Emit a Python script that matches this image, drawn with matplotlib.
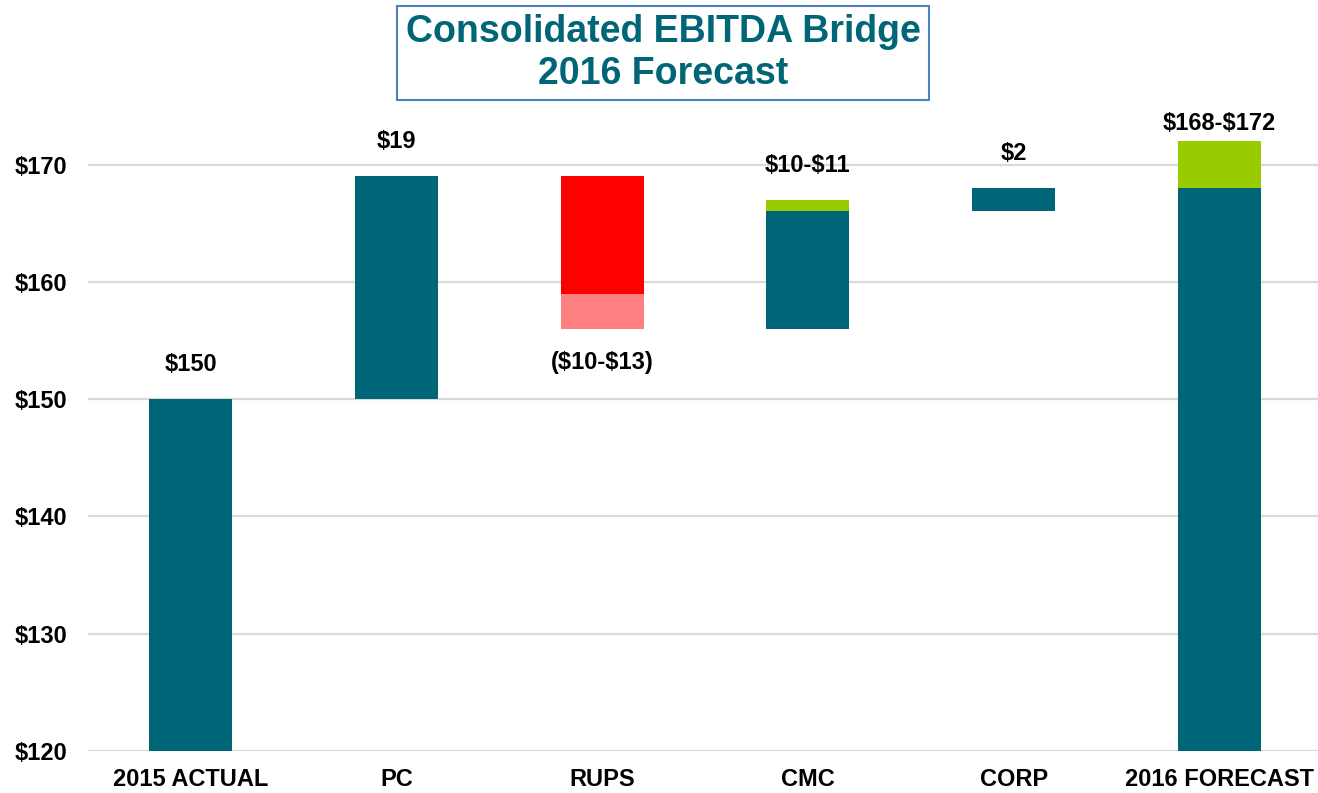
import numpy as np
import matplotlib
matplotlib.use("Agg")
import matplotlib.pyplot as plt

# ======================
# DATA
# ======================
categories = ["2015 ACTUAL", "PC", "RUPS", "CMC", "CORP", "2016 FORECAST"]

# main (solid) segment of each bar
solid_bottom = [120, 150, 159, 156, 166, 120]
solid_top = [150, 169, 169, 166, 168, 168]

# range segment (low / high estimate), nan = none
range_bottom = [np.nan, np.nan, 156, 166, np.nan, 168]
range_top = [np.nan, np.nan, 159, 167, np.nan, 172]

bar_labels = ["$150", "$19", "($10-$13)", "$10-$11", "$2", "$168-$172"]
label_below = [False, False, True, False, False, False]

yticks = [120, 130, 140, 150, 160, 170]
ytick_labels = ["$120", "$130", "$140", "$150", "$160", "$170"]

# ======================
# STYLE
# ======================
TEAL = "#006677"
GREEN = "#99CC00"
RED = "#FF0000"
PINK = "#FF8080"
solid_colors = [TEAL, TEAL, RED, TEAL, TEAL, TEAL]
range_colors = [GREEN, GREEN, PINK, GREEN, GREEN, GREEN]


def esc(s):
    # keep "$" literal, no mathtext
    return s.replace("$", r"\$")


plt.rcParams["font.family"] = ["Liberation Sans", "DejaVu Sans"]
plt.rcParams["font.weight"] = "bold"

fig = plt.figure(figsize=(13.18, 7.93), dpi=100)
ax = fig.add_axes([0.0668, 0.053, 0.9332, 0.8134])

x = np.arange(len(categories))
w = 0.404

s_bot = np.array(solid_bottom, dtype=float)
s_top = np.array(solid_top, dtype=float)
r_bot = np.array(range_bottom, dtype=float)
r_top = np.array(range_top, dtype=float)

ax.bar(x, s_top - s_bot, bottom=s_bot, width=w, color=solid_colors, zorder=3)
ax.bar(x, r_top - r_bot, bottom=r_bot, width=w, color=range_colors, zorder=3)

# labels over / under bars
for i, lab in enumerate(bar_labels):
    tops = [s_top[i]] + ([r_top[i]] if not np.isnan(r_top[i]) else [])
    bots = [s_bot[i]] + ([r_bot[i]] if not np.isnan(r_bot[i]) else [])
    if label_below[i]:
        ax.annotate(esc(lab), (x[i], min(bots)), xytext=(0, -24), textcoords="offset points",
                    ha="center", va="center", fontsize=17, fontweight="bold",
                    annotation_clip=False)
    else:
        off = 13 if i == len(categories) - 1 else 25
        ax.annotate(esc(lab), (x[i], max(tops)), xytext=(0, off), textcoords="offset points",
                    ha="center", va="center", fontsize=17, fontweight="bold",
                    annotation_clip=False)

ax.set_xlim(-0.5, 5.48)
ax.set_ylim(120, 175)
ax.set_yticks(yticks)
ax.set_yticklabels([esc(t) for t in ytick_labels], fontsize=17, fontweight="bold")
ax.set_xticks(x)
ax.set_xticklabels(categories, fontsize=17, fontweight="bold")
ax.tick_params(axis="both", length=0)
ax.tick_params(axis="y", pad=15)
ax.tick_params(axis="x", pad=12)
ax.yaxis.grid(True, color="#D9D9D9", linewidth=1.6, zorder=0)
ax.set_axisbelow(True)
for sp in ax.spines.values():
    sp.set_visible(False)

# title box
fig.text(0.503, 0.9335, "Consolidated EBITDA Bridge\n2016 Forecast",
         ha="center", va="center", fontsize=27, fontweight="bold", color=TEAL,
         linespacing=1.2,
         bbox=dict(boxstyle="square,pad=0.22", facecolor="white",
                   edgecolor="#4F81BD", linewidth=1.5))

fig.savefig("out.png", dpi=100)
